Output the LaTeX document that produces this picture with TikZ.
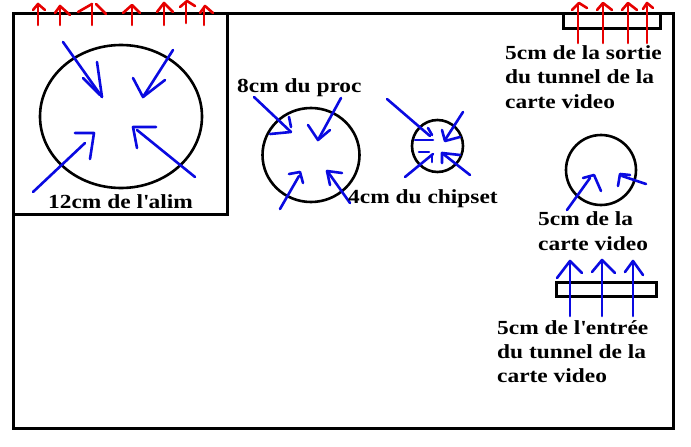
\documentclass[tikz,border=0pt]{standalone}
\usepackage{fontspec}
\newfontfamily\lbl{Liberation Serif}[FakeStretch=1.17]
\definecolor{arrblue}{RGB}{10,10,225}
\definecolor{arrred}{RGB}{230,0,0}
\begin{document}
\begin{tikzpicture}[x=1pt,y=-1pt,
  frame/.style={draw=black,line width=3pt},
  outline/.style={draw=black,line width=2.6pt},
  blueline/.style={draw=arrblue,line width=2.6pt,line cap=round,line join=round},
  redline/.style={draw=arrred,line width=2.6pt,line cap=round,line join=round},
  lbltext/.style={anchor=base west,inner sep=0pt,font=\lbl\bfseries\fontsize{20}{24}\selectfont}]
\useasboundingbox (0,0) rectangle (691,447);
\fill[white] (0,0) rectangle (691,447);
% frames
\draw[frame] (13.5,13.5) rectangle (673.5,428);
\draw[frame] (13.5,13.5) rectangle (227,214.5);
\draw[frame] (563.5,13.5) rectangle (660,28.5);
\draw[frame] (556.5,282.5) rectangle (656.5,296.5);
% fans
\draw[outline] (121,116.5) ellipse [x radius=81pt, y radius=71.5pt];
\draw[outline] (311,155) ellipse [x radius=48.5pt, y radius=47pt];
\draw[outline] (437.5,146) ellipse [x radius=25.5pt, y radius=26pt];
\draw[outline] (601,170) ellipse [x radius=35pt, y radius=35pt];
% red arrows top of PSU
\draw[redline] (38,25)--(38,4); \draw[redline] (33,10)--(38,4)--(45,10);
\draw[redline] (60,25)--(60,6); \draw[redline] (55,13)--(60,6)--(70,15);
\draw[redline] (92,25)--(92,4); \draw[redline] (78,12)--(92,4); \draw[redline] (96,4)--(106,14);
\draw[redline] (132,25)--(132,6); \draw[redline] (123,13)--(132,5)--(140,13);
\draw[redline] (164,25)--(164,3); \draw[redline] (157,12)--(164,3)--(173,12);
\draw[redline] (186,23)--(186,3); \draw[redline] (180,7)--(187,1)--(195,6);
\draw[redline] (204,25)--(204,7); \draw[redline] (200,13)--(205,6)--(213,13);
% red arrows tunnel exit
\draw[redline] (578,43)--(578,4); \draw[redline] (572,10)--(579,3)--(587,8);
\draw[redline] (603,43)--(603,4); \draw[redline] (597,10)--(603,3)--(612,10);
\draw[redline] (628,43)--(628,4); \draw[redline] (622,10)--(628,3)--(637,10);
\draw[redline] (647,43)--(647,6); \draw[redline] (643,9)--(647,3)--(653,8);
% blue arrows tunnel entrance
\draw[blueline] (570,316)--(570,262); \draw[blueline] (557,278)--(570,261)--(582,273);
\draw[blueline] (602,316)--(602,261); \draw[blueline] (592,272)--(602,260)--(615,273);
\draw[blueline] (633,316)--(633,262); \draw[blueline] (625,272)--(633,261)--(643,275);
% PSU fan
\draw[blueline] (63,42)--(102,97); \draw[blueline] (97,62)--(102,97); \draw[blueline] (83,78)--(100,95);
\draw[blueline] (173,50)--(143,97); \draw[blueline] (133,78)--(143,97)--(165,80);
\draw[blueline] (33,192)--(85,143); \draw[blueline] (75,133)--(94,133)--(90,159);
\draw[blueline] (195,177)--(137,130); \draw[blueline] (156,127)--(133,127)--(137,148);
% CPU fan
\draw[blueline] (254,97)--(291,132); \draw[blueline] (270,134)--(291,132); \draw[blueline] (289,117)--(291,127);
\draw[blueline] (341,98)--(318,140); \draw[blueline] (308,125)--(318,140)--(330,130);
\draw[blueline] (280,209)--(299,176); \draw[blueline] (289,174)--(300,172)--(303,183);
\draw[blueline] (350,203)--(328,172); \draw[blueline] (342,173)--(327,171)--(330,185);
% chipset fan
\draw[blueline] (387,99)--(430,136); \draw[blueline] (415,140)--(433,140); \draw[blueline] (428,128)--(432,135);
\draw[blueline] (463,112)--(445,140); \draw[blueline] (442,130)--(445,141)--(460,137);
\draw[blueline] (405,177)--(433,154); \draw[blueline] (419,152)--(429,152); \draw[blueline] (432,155)--(432,162);
\draw[blueline] (470,175)--(442,153); \draw[blueline] (460,155)--(442,153)--(442,163);
% video card fan
\draw[blueline] (567,210)--(590,178); \draw[blueline] (583,178)--(594,175)--(601,191);
\draw[blueline] (646,184)--(622,176); \draw[blueline] (630,175)--(620,174)--(618,186);
% labels
\node[lbltext] (alim) at (48,208) {12cm de l\textquotesingle alim};
\node[lbltext] (proc) at (237,92) {8cm du proc};
\node[lbltext] (chip) at (348,203) {4cm du chipset};
\node[lbltext] (sortieA) at (505,59) {5cm de la sortie};
\node[lbltext] (sortieB) at (505,83) {du tunnel de la};
\node[lbltext] (sortieC) at (505,108) {carte video};
\node[lbltext] (carteA) at (538,225) {5cm de la};
\node[lbltext] (carteB) at (538,250) {carte video};
\node[lbltext] (entreeA) at (497,334) {5cm de l\textquotesingle entrée};
\node[lbltext] (entreeB) at (497,358) {du tunnel de la};
\node[lbltext] (entreeC) at (497,382) {carte video};
\end{tikzpicture}
\end{document}
